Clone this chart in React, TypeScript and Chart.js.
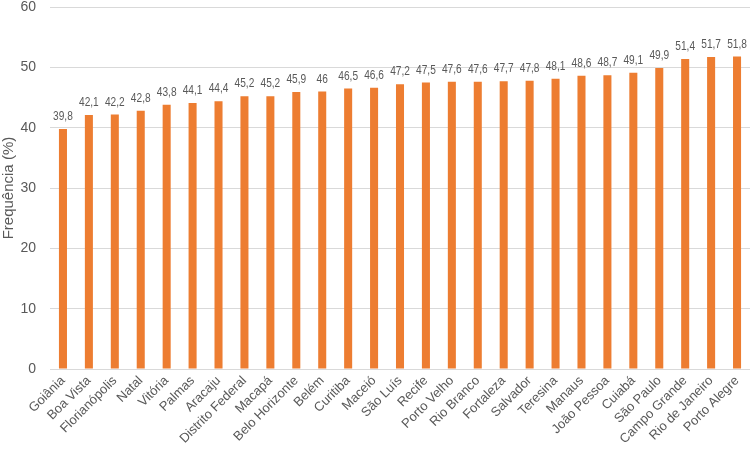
import React, { useEffect, useRef } from "react";
import { Chart, registerables } from "chart.js";

Chart.register(...registerables);

const cities = [
  "Goiânia", "Boa Vista", "Florianópolis", "Natal", "Vitória", "Palmas", "Aracaju",
  "Distrito Federal", "Macapá", "Belo Horizonte", "Belém", "Curitiba", "Maceió",
  "São Luís", "Recife", "Porto Velho", "Rio Branco", "Fortaleza", "Salvador",
  "Teresina", "Manaus", "João Pessoa", "Cuiabá", "São Paulo", "Campo Grande",
  "Rio de Janeiro", "Porto Alegre",
];
const frequencies = [
  39.8, 42.1, 42.2, 42.8, 43.8, 44.1, 44.4, 45.2, 45.2, 45.9, 46, 46.5, 46.6,
  47.2, 47.5, 47.6, 47.6, 47.7, 47.8, 48.1, 48.6, 48.7, 49.1, 49.9, 51.4, 51.7, 51.8,
];
const yTitle = "Frequência (%)";

const FONT = "'Liberation Sans', Arial, sans-serif";
const TEXT = "#595959";

const labelPlugin = {
  id: "barLabels",
  afterDatasetsDraw(chart: any) {
    const ctx = chart.ctx;
    const meta = chart.getDatasetMeta(0);
    ctx.save();
    ctx.font = `13px ${FONT}`;
    ctx.fillStyle = TEXT;
    ctx.textAlign = "center";
    ctx.textBaseline = "bottom";
    meta.data.forEach((bar: any, i: number) => {
      const v = frequencies[i];
      ctx.save();
      ctx.translate(bar.x, bar.y - 6);
      ctx.scale(0.78, 1);
      ctx.fillText(String(v).replace(".", ","), 0, 0);
      ctx.restore();
    });
    ctx.restore();
  },
};

export default function App() {
  const ref = useRef<HTMLCanvasElement>(null);
  useEffect(() => {
    document.body.style.margin = "0";
    const chart = new Chart(ref.current as HTMLCanvasElement, {
      type: "bar",
      data: {
        labels: cities,
        datasets: [
          {
            data: frequencies,
            backgroundColor: "#ED7D31",
            barPercentage: 0.31,
            categoryPercentage: 1,
          },
        ],
      },
      options: {
        animation: false,
        responsive: false,
        maintainAspectRatio: false,
        layout: { padding: 0 },
        plugins: { legend: { display: false }, tooltip: { enabled: false } },
        scales: {
          x: {
            grid: { display: false, drawTicks: false },
            border: { color: "#d9d9d9", width: 1 },
            afterFit: (scale: any) => {
              scale.paddingLeft = 0;
              scale.paddingRight = 0;
              scale.height = scale.height + 2;
            },
            ticks: {
              color: TEXT,
              font: { family: FONT, size: 13 },
              minRotation: 45,
              maxRotation: 45,
              autoSkip: false,
              padding: 4,
            },
          },
          y: {
            min: 0,
            max: 60,
            grid: { color: "#d9d9d9", drawTicks: false },
            border: { display: false },
            afterFit: (scale: any) => {
              scale.paddingTop = 7;
              scale.width = 50;
            },
            ticks: {
              stepSize: 10,
              color: TEXT,
              font: { family: FONT, size: 14 },
              padding: 14,
            },
            title: {
              display: true,
              text: yTitle,
              color: TEXT,
              font: { family: FONT, size: 15 },
              padding: 0,
            },
          },
        },
      },
      plugins: [labelPlugin],
    });
    return () => chart.destroy();
  }, []);
  return (
    <div style={{ width: 750, height: 453 }}>
      <canvas ref={ref} width={750} height={453} />
    </div>
  );
}
